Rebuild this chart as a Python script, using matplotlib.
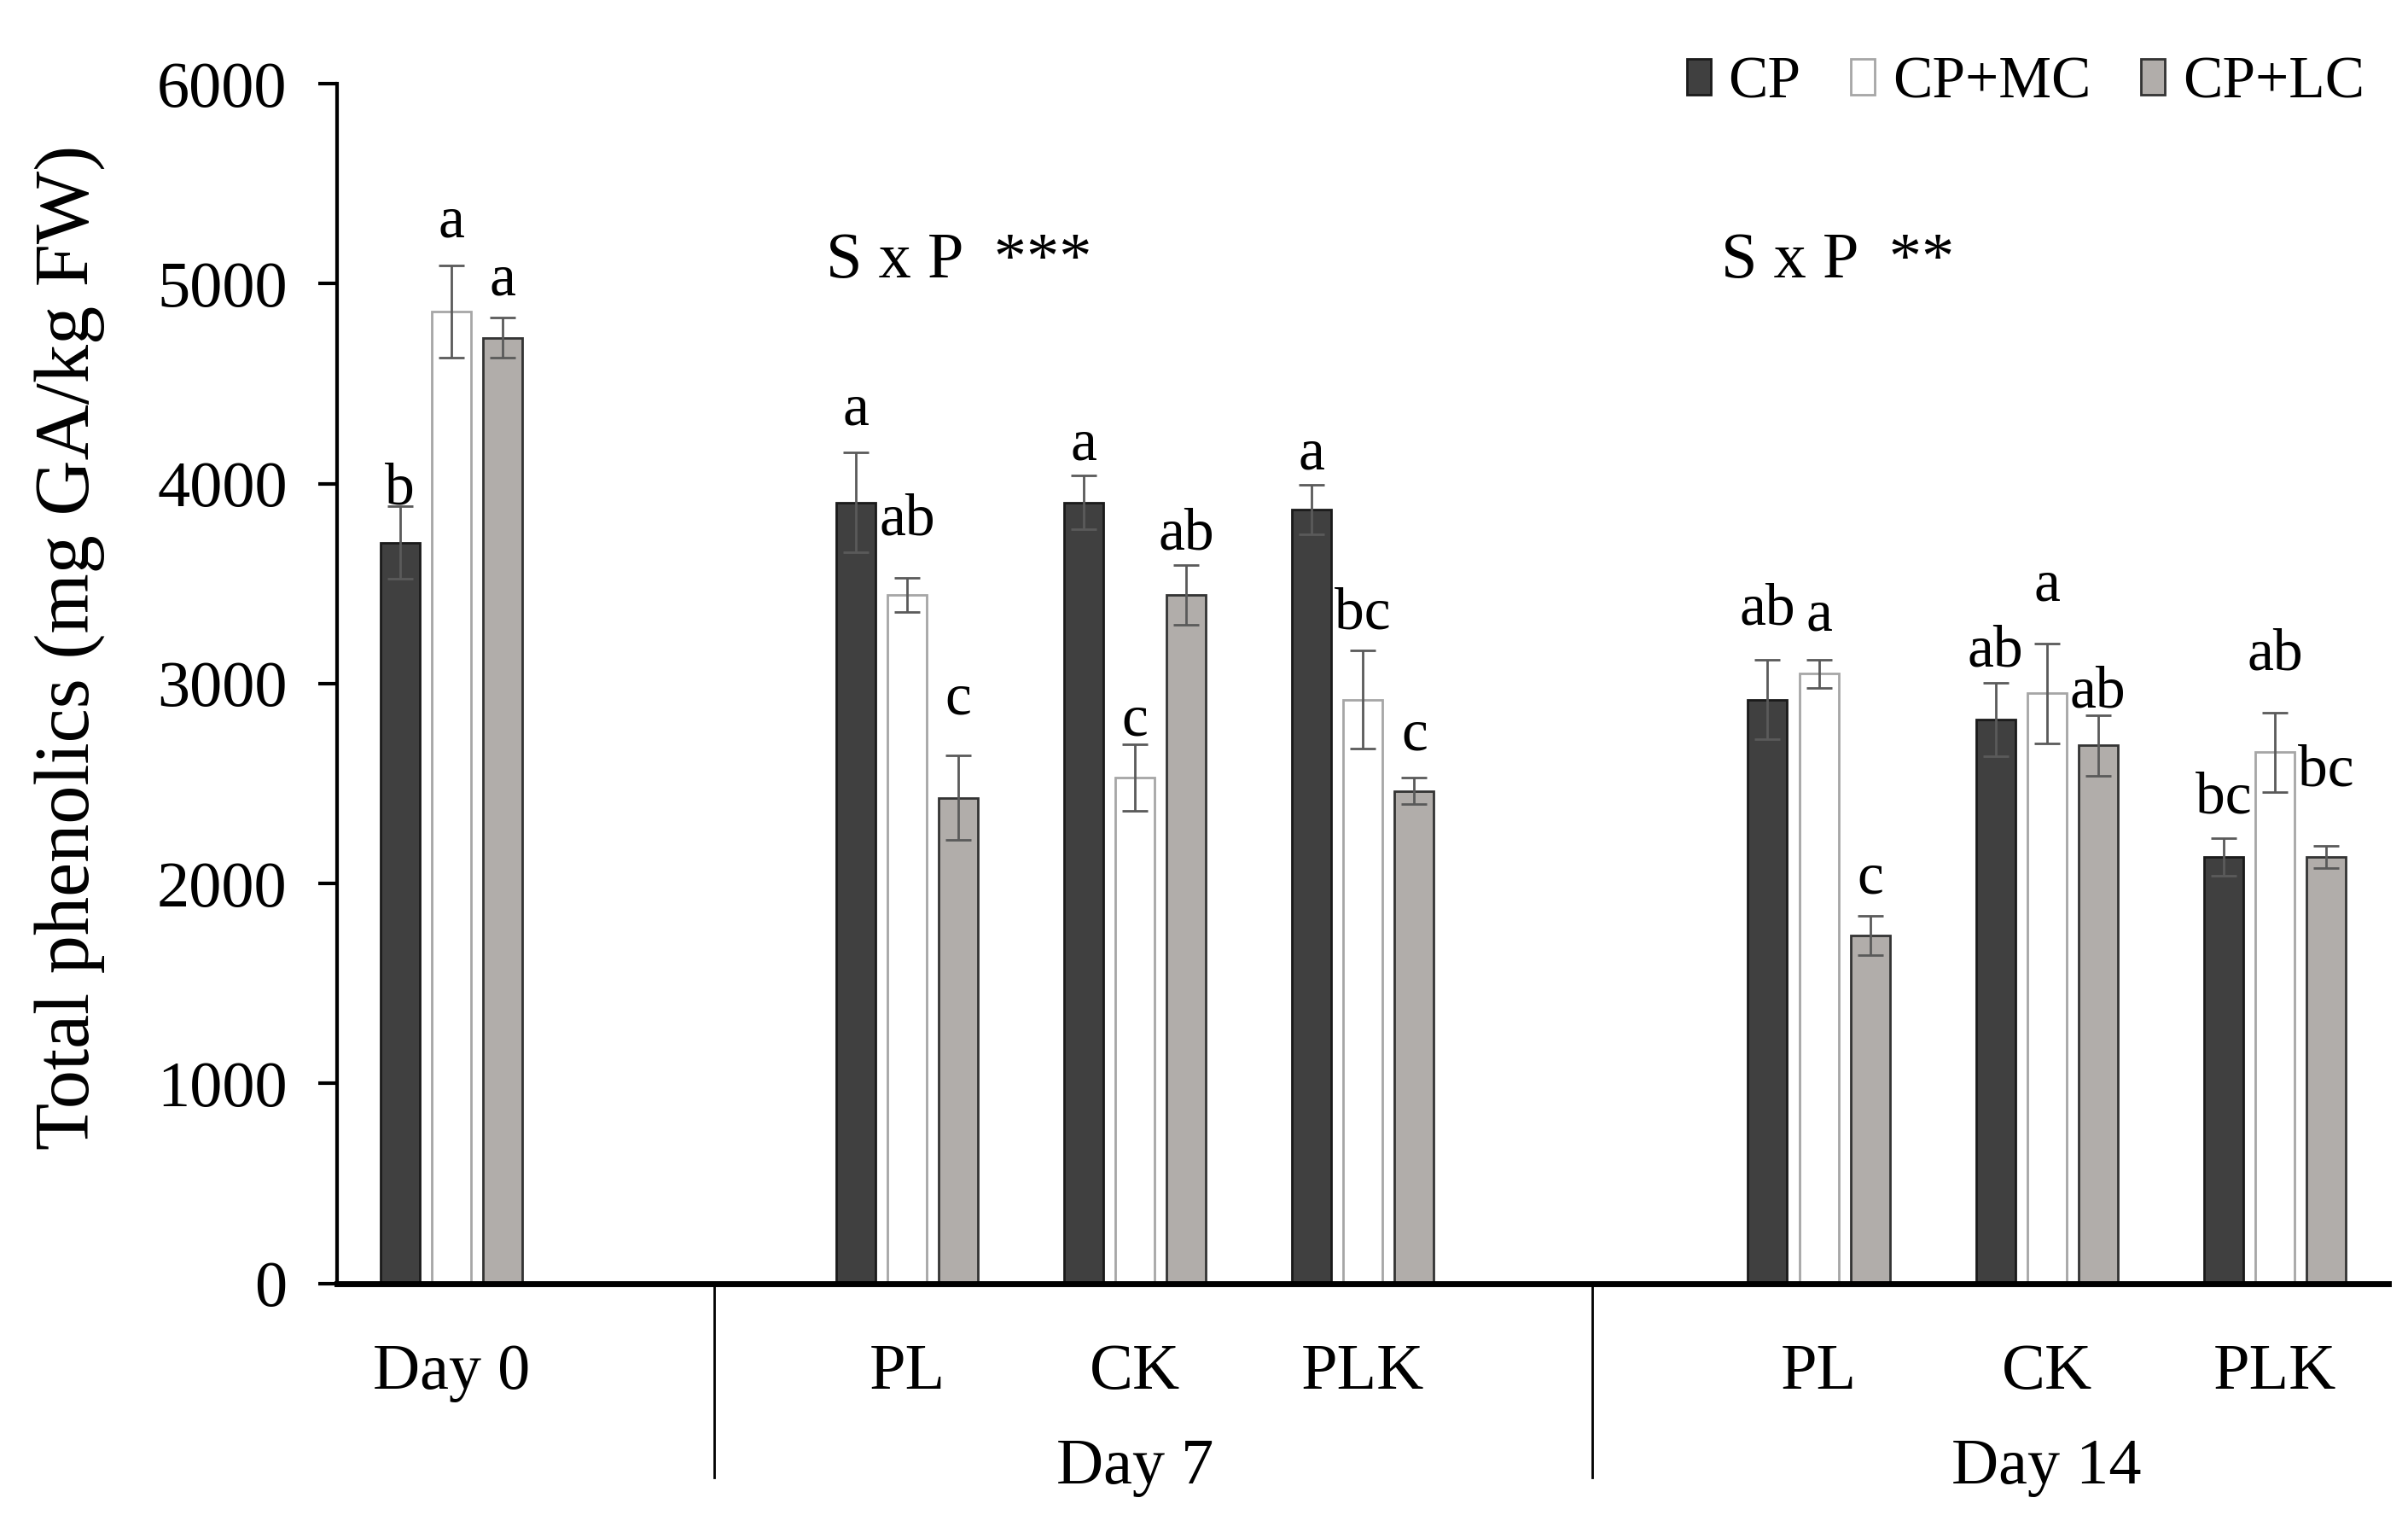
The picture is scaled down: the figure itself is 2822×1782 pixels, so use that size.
import numpy as np
import matplotlib
matplotlib.use("Agg")
import matplotlib.pyplot as plt
from matplotlib.patches import Patch
import matplotlib.transforms as mtransforms

plt.rcParams['font.family'] = ['Liberation Serif', 'DejaVu Serif']

# data
groups = ['Day 0', 'PL', 'CK', 'PLK', 'PL', 'CK', 'PLK']
days = ['Day 0', 'Day 7', 'Day 7', 'Day 7', 'Day 14', 'Day 14', 'Day 14']
series = ['CP', 'CP+MC', 'CP+LC']

cp = [3705, 3905, 3905, 3870, 2920, 2820, 2133]
cp_mc = [4860, 3444, 2530, 2920, 3050, 2952, 2656]
cp_lc = [4730, 2429, 3444, 2463, 1740, 2690, 2133]

cp_err = [180, 250, 135, 125, 197, 185, 95]
cp_mc_err = [230, 85, 165, 245, 70, 250, 197]
cp_lc_err = [100, 210, 150, 65, 98, 150, 55]

cp_let = ['b', 'a', 'a', 'a', 'ab', 'ab', 'bc']
cp_mc_let = ['a', 'ab', 'c', 'bc', 'a', 'a', 'ab']
cp_lc_let = ['a', 'c', 'ab', 'c', 'c', 'ab', 'bc']

interaction = {'Day 7': 'S x P  ***', 'Day 14': 'S x P  **'}

# styles / layout
fills = ['#404040', '#ffffff', '#b1adaa']
edges = ['#1a1a1a', '#a6a6a6', '#333333']
bw = 0.172
step = 0.225
# gap (pt) between error bar top and letter, per series
let_gap = [
    [3, 33, 19, 18, 42, 19, 29],
    [34, 50, 11, 26, 34, 50, 51],
    [27, 49, 18, 33, 27, 10, 71],
]

# slot positions: one empty slot between days
slots = []
s = 0
for i, d in enumerate(days):
    if i > 0 and d != days[i - 1]:
        s += 1
    slots.append(s)
    s += 1
slots = np.array(slots, dtype=float)
nslots = s

fig = plt.figure(figsize=(28.22, 17.82), dpi=100)
ax = fig.add_axes([0.140, 0.1562, 0.852, 0.7888])

means = [cp, cp_mc, cp_lc]
errs = [cp_err, cp_mc_err, cp_lc_err]
lets = [cp_let, cp_mc_let, cp_lc_let]

for k in range(3):
    x = slots + (k - 1) * step
    ax.bar(x, means[k], width=bw, color=fills[k], edgecolor=edges[k],
           linewidth=2, label=series[k], zorder=2)
    ax.errorbar(x, means[k], yerr=errs[k], fmt='none', ecolor='#5a5a5a',
                elinewidth=2, capsize=11, capthick=2, zorder=3)
    for j in range(len(x)):
        ax.annotate(lets[k][j], (x[j], means[k][j] + errs[k][j]),
                    xytext=(0, let_gap[k][j] * 0.72), textcoords='offset points',
                    ha='center', va='baseline', fontsize=50)

ax.set_xlim(-0.5, nslots - 0.5)
ax.set_ylim(0, 6000)
ax.set_yticks(np.arange(0, 6001, 1000))
ax.tick_params(axis='y', labelsize=55, length=16, width=3, direction='out', pad=26)
ax.set_xticks([])
for sp in ['top', 'right']:
    ax.spines[sp].set_visible(False)
ax.spines['left'].set_linewidth(3)
ax.spines['bottom'].set_linewidth(5)
ax.set_ylabel('Total phenolics (mg GA/kg FW)', fontsize=65, va='center')
ax.yaxis.set_label_coords(-0.1306, 0.53)

trans = mtransforms.blended_transform_factory(ax.transData, ax.transAxes)
for j, g in enumerate(groups):
    ax.text(slots[j], -0.088, g, transform=trans, ha='center', va='baseline',
            fontsize=55)

# day labels and separators
for d in ['Day 7', 'Day 14']:
    idx = [j for j in range(len(days)) if days[j] == d]
    ax.text(np.mean(slots[idx]), -0.167, d, transform=trans, ha='center',
            va='baseline', fontsize=55)
for xs in [1.155, 5.005]:
    ax.plot([xs, xs], [0, -0.162], transform=trans, color='black', lw=2,
            clip_on=False)

ax.text(1.646, 5112, interaction['Day 7'], ha='left', va='center', fontsize=55)
ax.text(5.57, 5112, interaction['Day 14'], ha='left', va='center', fontsize=55)

handles = [Patch(facecolor=fills[k], edgecolor=edges[k], linewidth=2)
           for k in range(3)]
fig.legend(handles, series, loc='center right', bbox_to_anchor=(0.982, 0.945),
           ncol=3, frameon=False, fontsize=50, handlelength=0.4,
           handleheight=0.55, handletextpad=0.3, columnspacing=0.85,
           borderpad=0, borderaxespad=0)

fig.savefig('out.png', dpi=100)
